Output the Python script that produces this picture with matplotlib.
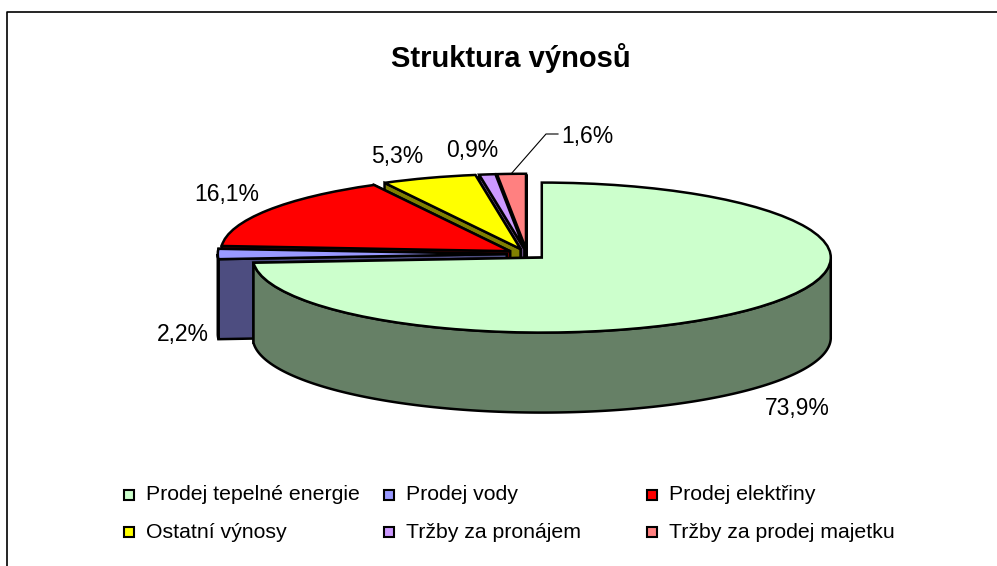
import numpy as np
import matplotlib
matplotlib.use('Agg')
import matplotlib.pyplot as plt
from matplotlib.lines import Line2D
from matplotlib.patches import Polygon, Rectangle

plt.rcParams['font.family'] = ['Liberation Sans', 'DejaVu Sans']

W, H = 997, 566

nazvy = ['Prodej tepelné energie', 'Prodej vody', 'Prodej elektřiny',
         'Ostatní výnosy', 'Tržby za pronájem', 'Tržby za prodej majetku']
hodnoty = [73.9, 2.2, 16.1, 5.3, 0.9, 1.6]
barvy = ['#CCFFCC', '#9999FF', '#FF0000', '#FFFF00', '#CC99FF', '#FF8080']

# kde jsou popisky v obrazku (pixely)
popisky_xy = [(797, 408), (183, 334), (227, 194), (397, 156), (472, 151), (587, 137)]
legenda_xy = [(129, 495), (389, 495), (652, 495), (129, 532), (389, 532), (652, 532)]

# meritko elipsy v pixelech
rx, ry = 289, 75
cx, cy = 527, 254
hloubka = 80 / ry


def fx(x):
    return x / W


def fy(y):
    return 1 - y / H


def tmava(barva):
    r, g, b = matplotlib.colors.to_rgb(barva)
    return (r * 0.5, g * 0.5, b * 0.5)


fig = plt.figure(figsize=(W / 100, H / 100), dpi=100)
ax = fig.add_axes([0, 0, 1, 1])

wedges, _ = ax.pie(hodnoty, colors=barvy, explode=[0.07] * 6, startangle=90,
                   counterclock=False, radius=1,
                   wedgeprops=dict(edgecolor='k', linewidth=1.8))

# pie nastavi vlastni meze a kruh, tady z nej udelame elipsu
ax.set_aspect('auto')
ax.set_xlim((0 - cx) / rx, (W - cx) / rx)
ax.set_ylim((cy - H) / ry, cy / ry)

# od zadnich dilku k prednim
poradi = np.argsort([-w.center[1] for w in wedges])
for z, i in enumerate(poradi):
    w = wedges[i]
    x0, y0 = w.center
    tmavy = tmava(barvy[i])
    w.set_zorder(10 + 3 * z + 2)

    # rezy dilku
    for t in (w.theta1, w.theta2):
        a = np.radians(t)
        xr, yr = x0 + np.cos(a), y0 + np.sin(a)
        ax.add_patch(Polygon([(x0, y0), (xr, yr), (xr, yr - hloubka), (x0, y0 - hloubka)],
                             facecolor=tmavy, edgecolor='k', linewidth=1.8,
                             zorder=10 + 3 * z))

    # vnejsi plast, jen predni cast
    uhly = np.radians(np.linspace(w.theta1, w.theta2, 300))
    uhly = uhly[np.sin(uhly) <= 0]
    if len(uhly) > 1:
        xs = x0 + np.cos(uhly)
        ys = y0 + np.sin(uhly)
        body = np.vstack([np.column_stack([xs, ys]),
                          np.column_stack([xs, ys - hloubka])[::-1]])
        ax.add_patch(Polygon(body, facecolor=tmavy, edgecolor='k', linewidth=1.8,
                             zorder=10 + 3 * z + 1))

# popisky hodnot
for v, (x, y) in zip(hodnoty, popisky_xy):
    fig.text(fx(x), fy(y), f'{v:.1f}'.replace('.', ',') + '%', fontsize=16.5,
             ha='center', va='center', color='k', zorder=100)

fig.add_artist(Line2D([fx(511), fx(546), fx(558)], [fy(174), fy(134), fy(134)],
                      color='k', linewidth=0.8))

fig.text(fx(511), fy(58), 'Struktura výnosů', fontsize=21, fontweight='bold',
         ha='center', va='center')

# legenda
for n, b, (x, y) in zip(nazvy, barvy, legenda_xy):
    fig.add_artist(Rectangle((fx(x - 5), fy(y + 5)), 10 / W, 10 / H, facecolor=b,
                             edgecolor='k', linewidth=1.5,
                             transform=fig.transFigure))
    fig.text(fx(x + 17), fy(y), n, fontsize=15.3, ha='left', va='center', color='k')

# ramecek grafu, vpravo a dole je oriznuty
fig.add_artist(Line2D([fx(7), fx(7), 1], [0, fy(12), fy(12)], color='k', linewidth=1.2))

fig.savefig('out.png', dpi=100)
